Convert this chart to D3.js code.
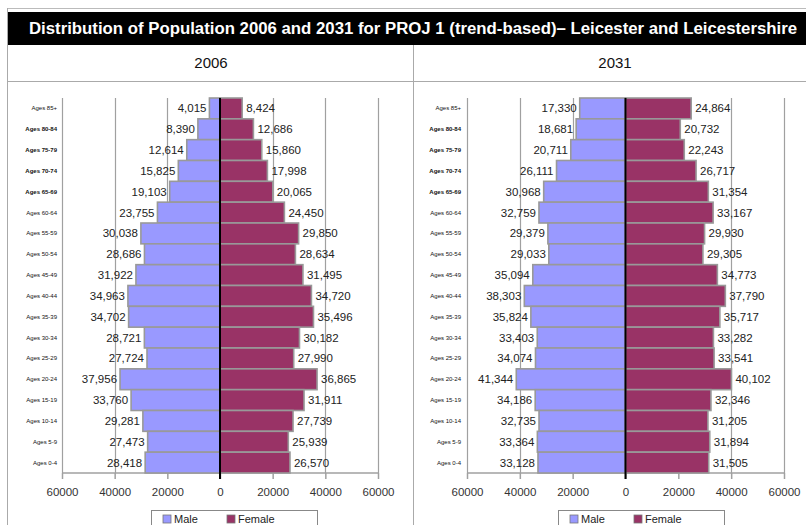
<!DOCTYPE html>
<html>
<head>
<meta charset="utf-8">
<script src="https://cdn.jsdelivr.net/npm/d3@7"></script>
<style>
  html, body { margin: 0; padding: 0; background: #fff; }
  svg { display: block; font-family: Arial, "Liberation Sans", Helvetica, sans-serif; }
</style>
</head>
<body>
<svg id="chart" width="806" height="525"></svg>
<script>
// Age bands, oldest first (top of the pyramid)
const ageGroups = ["Ages 85+", "Ages 80-84", "Ages 75-79", "Ages 70-74", "Ages 65-69", "Ages 60-64",
  "Ages 55-59", "Ages 50-54", "Ages 45-49", "Ages 40-44", "Ages 35-39", "Ages 30-34",
  "Ages 25-29", "Ages 20-24", "Ages 15-19", "Ages 10-14", "Ages 5-9", "Ages 0-4"];

const male2006 = [4015, 8390, 12614, 15825, 19103, 23755, 30038, 28686, 31922, 34963, 34702, 28721,
  27724, 37956, 33760, 29281, 27473, 28418];
const female2006 = [8424, 12686, 15860, 17998, 20065, 24450, 29850, 28634, 31495, 34720, 35496, 30182,
  27990, 36865, 31911, 27739, 25939, 26570];

const male2031 = [17330, 18681, 20711, 26111, 30968, 32759, 29379, 29033, 35094, 38303, 35824, 33403,
  34074, 41344, 34186, 32735, 33364, 33128];
const female2031 = [24864, 20732, 22243, 26717, 31354, 33167, 29930, 29305, 34773, 37790, 35717, 33282,
  33541, 40102, 32346, 31205, 31894, 31505];

const axisTicks = [-60000, -40000, -20000, 0, 20000, 40000, 60000];
const years = ["2006", "2031"];
const seriesNames = ["Male", "Female"];

const titleText = "Distribution of Population 2006 and 2031 for PROJ 1 (trend-based)\u2013 Leicester and Leicestershire";

const MALE = "#9999ff", FEMALE = "#993366", EDGE = "#999999", GRID = "#a0a0a0";

const svg = d3.select("#chart");

// Frame: outer rule, title bar, year header row and panel divider
svg.append("line").attr("x1", 7.5).attr("x2", 806).attr("y1", 8.5).attr("y2", 8.5)
  .attr("stroke", "#bbb").attr("stroke-width", 1);
svg.append("line").attr("x1", 7.5).attr("x2", 7.5).attr("y1", 8).attr("y2", 525)
  .attr("stroke", "#aaa").attr("stroke-width", 1);
svg.append("rect").attr("x", 8).attr("y", 12).attr("width", 798).attr("height", 33).attr("fill", "#000");
svg.append("text").attr("x", 413).attr("y", 34).attr("text-anchor", "middle")
  .attr("fill", "#fff").attr("font-weight", "bold").attr("font-size", 16)
  .attr("textLength", 768).attr("lengthAdjust", "spacingAndGlyphs")
  .text(titleText);
svg.append("line").attr("x1", 8).attr("x2", 806).attr("y1", 81.5).attr("y2", 81.5)
  .attr("stroke", "#aaa").attr("stroke-width", 1);
svg.append("line").attr("x1", 413.5).attr("x2", 413.5).attr("y1", 45).attr("y2", 525)
  .attr("stroke", "#aaa").attr("stroke-width", 1);

const panels = [
  { year: years[0], male: male2006, female: female2006, x0: 62, x1: 378, labelX: 57, headX: 211, legendX: 151 },
  { year: years[1], male: male2031, female: female2031, x0: 467, x1: 784, labelX: 461, headX: 615, legendX: 558 }
];

const fmt = d3.format(",");
const plotTop = 98, plotBottom = 473;

panels.forEach(p => {
  const g = svg.append("g");

  g.append("text").attr("x", p.headX).attr("y", 68).attr("text-anchor", "middle")
    .attr("font-size", 15).attr("fill", "#111").text(p.year);

  const x = d3.scaleLinear().domain([-60000, 60000]).range([p.x0, p.x1]);
  const y = d3.scaleBand().domain(ageGroups).range([plotTop, plotBottom]).padding(0);

  // vertical gridlines
  g.append("g").selectAll("line").data(axisTicks.filter(t => t !== 0)).join("line")
    .attr("x1", d => Math.round(x(d)) + 0.5).attr("x2", d => Math.round(x(d)) + 0.5)
    .attr("y1", plotTop).attr("y2", plotBottom)
    .attr("stroke", GRID).attr("stroke-width", 1.2);

  // bottom axis with absolute tick labels
  const axis = d3.axisBottom(x).tickValues(axisTicks).tickSize(6).tickPadding(9)
    .tickFormat(d => String(Math.abs(d)));
  const ax = g.append("g").attr("transform", `translate(0,${plotBottom})`).call(axis);
  ax.select(".domain").attr("stroke", GRID).attr("stroke-width", 1.5).attr("d", `M${p.x0},0H${p.x1}`);
  ax.selectAll(".tick line").attr("stroke", GRID).attr("stroke-width", 1.5);
  ax.selectAll(".tick text").attr("font-size", 11.5).attr("fill", "#333")
    .attr("font-family", "Arial, 'Liberation Sans', sans-serif");

  // male bars (left of centre)
  g.append("g").selectAll("rect").data(p.male).join("rect")
    .attr("x", d => x(-d)).attr("width", d => x(0) - x(-d))
    .attr("y", (d, i) => y(ageGroups[i])).attr("height", y.bandwidth())
    .attr("fill", MALE).attr("stroke", EDGE).attr("stroke-width", 1.6);

  // female bars (right of centre)
  g.append("g").selectAll("rect").data(p.female).join("rect")
    .attr("x", x(0)).attr("width", d => x(d) - x(0))
    .attr("y", (d, i) => y(ageGroups[i])).attr("height", y.bandwidth())
    .attr("fill", FEMALE).attr("stroke", EDGE).attr("stroke-width", 1.6);

  // centre line
  g.append("line").attr("x1", x(0)).attr("x2", x(0)).attr("y1", plotTop).attr("y2", plotBottom + 6)
    .attr("stroke", "#000").attr("stroke-width", 2);

  // value labels
  g.append("g").selectAll("text").data(p.male).join("text")
    .attr("x", d => x(-d) - 3).attr("y", (d, i) => y(ageGroups[i]) + y.bandwidth() / 2 + 4)
    .attr("text-anchor", "end").attr("font-size", 11.5).attr("fill", "#222")
    .text(d => fmt(d));
  g.append("g").selectAll("text").data(p.female).join("text")
    .attr("x", d => x(d) + 4).attr("y", (d, i) => y(ageGroups[i]) + y.bandwidth() / 2 + 4)
    .attr("text-anchor", "start").attr("font-size", 11.5).attr("fill", "#222")
    .text(d => fmt(d));

  // age group labels
  g.append("g").selectAll("text").data(ageGroups).join("text")
    .attr("x", p.labelX).attr("y", d => y(d) + y.bandwidth() / 2 + 2)
    .attr("text-anchor", "end").attr("font-size", 6).attr("fill", "#111")
    .attr("font-weight", d => ["Ages 80-84", "Ages 75-79", "Ages 70-74", "Ages 65-69"].includes(d) ? "bold" : "normal")
    .text(d => d);

  // legend
  const lg = g.append("g").attr("transform", `translate(${p.legendX},510)`);
  lg.append("rect").attr("x", 0.5).attr("y", 0.5).attr("width", 166).attr("height", 22)
    .attr("fill", "#fff").attr("stroke", "#888").attr("stroke-width", 1);
  const items = lg.selectAll("g.item").data(seriesNames).join("g").attr("class", "item")
    .attr("transform", (d, i) => `translate(${i === 0 ? 12 : 76},3)`);
  items.append("rect").attr("x", 0).attr("y", 2).attr("width", 8).attr("height", 8)
    .attr("fill", (d, i) => i === 0 ? MALE : FEMALE).attr("stroke", "#777").attr("stroke-width", 0.8);
  items.append("text").attr("x", 11).attr("y", 10).attr("font-size", 11).attr("fill", "#222").text(d => d);
});
</script>
</body>
</html>
